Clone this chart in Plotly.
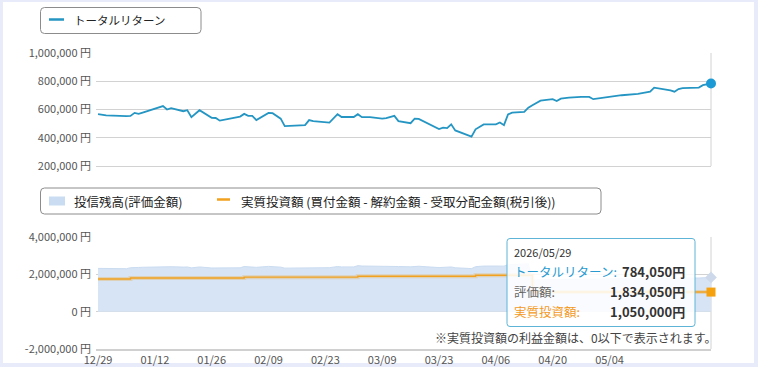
import plotly.graph_objects as go

W, H = 758, 367

# ---------------- data ----------------
dates = ['2025-12-29', '2025-12-31', '2026-01-05', '2026-01-06', '2026-01-07', '2026-01-08', '2026-01-09',
         '2026-01-14', '2026-01-15', '2026-01-16', '2026-01-19', '2026-01-20', '2026-01-21', '2026-01-23',
         '2026-01-26', '2026-01-27', '2026-01-28', '2026-01-30', '2026-02-02', '2026-02-03', '2026-02-04',
         '2026-02-05', '2026-02-06', '2026-02-09', '2026-02-10', '2026-02-12', '2026-02-13', '2026-02-18',
         '2026-02-19', '2026-02-20', '2026-02-24', '2026-02-26', '2026-02-27', '2026-03-02', '2026-03-03',
         '2026-03-04', '2026-03-06', '2026-03-09', '2026-03-10', '2026-03-12', '2026-03-13', '2026-03-16',
         '2026-03-17', '2026-03-18', '2026-03-23', '2026-03-24', '2026-03-25', '2026-03-26', '2026-03-27',
         '2026-03-31', '2026-04-01', '2026-04-03', '2026-04-06', '2026-04-07', '2026-04-08', '2026-04-09',
         '2026-04-10', '2026-04-13', '2026-04-14', '2026-04-15', '2026-04-16', '2026-04-17', '2026-04-20',
         '2026-04-21', '2026-04-22', '2026-04-24', '2026-04-27', '2026-04-29', '2026-04-30', '2026-05-04',
         '2026-05-07', '2026-05-11', '2026-05-13', '2026-05-14', '2026-05-15', '2026-05-18', '2026-05-19',
         '2026-05-20', '2026-05-21', '2026-05-22', '2026-05-26', '2026-05-27', '2026-05-29']

total_return = [567000, 558000, 553000, 555000, 576000, 569000, 578000,
                624000, 600000, 609000, 588000, 595000, 546000, 595000,
                541000, 540000, 521000, 533000, 550000, 569000, 555000,
                555000, 525000, 576000, 574000, 535000, 482000, 489000,
                525000, 517000, 507000, 567000, 547000, 547000, 567000,
                546000, 546000, 535000, 539000, 555000, 518000, 503000,
                535000, 533000, 461000, 472000, 468000, 495000, 452000,
                408000, 460000, 494000, 495000, 508000, 489000, 565000,
                578000, 583000, 613000, 630000, 649000, 663000, 673000,
                660000, 677000, 684000, 689000, 689000, 673000, 689000,
                701000, 710000, 724000, 726000, 755000, 743000, 736000,
                726000, 745000, 752000, 755000, 772000, 784050]

valuation = [2317000, 2308000, 2303000, 2355000, 2376000, 2369000, 2378000,
             2424000, 2400000, 2409000, 2388000, 2395000, 2346000, 2395000,
             2341000, 2340000, 2321000, 2333000, 2350000, 2419000, 2405000,
             2405000, 2375000, 2426000, 2424000, 2385000, 2332000, 2339000,
             2375000, 2367000, 2357000, 2417000, 2397000, 2397000, 2467000,
             2446000, 2446000, 2435000, 2439000, 2455000, 2418000, 2403000,
             2435000, 2433000, 2361000, 2372000, 2368000, 2395000, 2352000,
             2308000, 2410000, 2444000, 2445000, 2458000, 2439000, 2515000,
             2528000, 2533000, 2563000, 1680000, 1699000, 1713000, 1723000,
             1710000, 1727000, 1734000, 1739000, 1739000, 1723000, 1739000,
             1751000, 1760000, 1774000, 1776000, 1805000, 1793000, 1786000,
             1776000, 1795000, 1802000, 1805000, 1822000, 1834050]

invest_dates = ['2025-12-29', '2026-01-06', '2026-02-03', '2026-03-03', '2026-04-01', '2026-04-15', '2026-05-29']
invest_values = [1750000, 1800000, 1850000, 1900000, 1950000, 1050000, 1050000]

x_tickvals = ['2025-12-29', '2026-01-12', '2026-01-26', '2026-02-09', '2026-02-23',
              '2026-03-09', '2026-03-23', '2026-04-06', '2026-04-20', '2026-05-04']
x_ticktext = ['12/29', '01/12', '01/26', '02/09', '02/23', '03/09', '03/23', '04/06', '04/20', '05/04']
y1_ticks = [200000, 400000, 600000, 800000, 1000000]
y2_ticks = [-2000000, 0, 2000000, 4000000]

tip_date = '2026/05/29'
tip_labels = ['トータルリターン:', '評価額:', '実質投資額:']
tip_values = ['784,050円', '1,834,050円', '1,050,000円']

legend1 = 'トータルリターン'
legend2a = '投信残高(評価金額)'
legend2b = '実質投資額 (買付金額 - 解約金額 - 受取分配金額(税引後))'
note = '※実質投資額の利益金額は、0以下で表示されます。'

# ---------------- helpers ----------------
FONT = 'Noto Sans CJK JP, Noto Sans, sans-serif'
TEAL = '#2596c3'
ORANGE = '#f2a11f'


def px(x):
    return x / W


def py(y):
    return 1 - y / H


def rrect(x0, y0, x1, y1, r):
    rx, ry = r / W, r / H
    X0, X1, Y0, Y1 = px(x0), px(x1), py(y0), py(y1)
    return (f'M {X0 + rx} {Y0} L {X1 - rx} {Y0} Q {X1} {Y0} {X1} {Y0 - ry} '
            f'L {X1} {Y1 + ry} Q {X1} {Y1} {X1 - rx} {Y1} '
            f'L {X0 + rx} {Y1} Q {X0} {Y1} {X0} {Y1 + ry} '
            f'L {X0} {Y0 - ry} Q {X0} {Y0} {X0 + rx} {Y0} Z')


fmt = lambda v: f'{v:,} 円'

fig = go.Figure()

# top chart
fig.add_trace(go.Scatter(x=dates, y=total_return, mode='lines', line=dict(color=TEAL, width=1.8),
                         xaxis='x', yaxis='y'))
fig.add_trace(go.Scatter(x=[dates[-1]], y=[total_return[-1]], mode='markers',
                         marker=dict(color='#1c9ad5', size=10), xaxis='x', yaxis='y', cliponaxis=False))

# bottom chart
fig.add_trace(go.Scatter(x=dates, y=valuation, mode='lines', fill='tozeroy', fillcolor='#d6e4f5',
                         line=dict(color='#cbdcf1', width=1), xaxis='x2', yaxis='y2'))
fig.add_trace(go.Scatter(x=invest_dates, y=invest_values, mode='lines',
                         line=dict(color='rgba(242,161,31,0.28)', width=4, shape='hv'),
                         xaxis='x2', yaxis='y2'))
fig.add_trace(go.Scatter(x=invest_dates, y=invest_values, mode='lines',
                         line=dict(color=ORANGE, width=1.4, shape='hv'), xaxis='x2', yaxis='y2'))
fig.add_trace(go.Scatter(x=[dates[-1]], y=[valuation[-1]], mode='markers',
                         marker=dict(color='#cdd9ea', size=9, symbol='diamond'),
                         xaxis='x2', yaxis='y2', cliponaxis=False))
fig.add_trace(go.Scatter(x=[invest_dates[-1]], y=[invest_values[-1]], mode='markers',
                         marker=dict(color='#f5a10e', size=9, symbol='square'),
                         xaxis='x2', yaxis='y2', cliponaxis=False))

L, R = 96, 711
xrange = ['2025-12-28 12:00', '2026-05-29']
tickfont = dict(family=FONT, size=11, color='#555555')

shapes = [
    # page panel
    dict(type='rect', xref='paper', yref='paper', x0=px(3), x1=px(754), y0=py(363), y1=py(2),
         fillcolor='white', line=dict(width=0), layer='below'),
    # right borders
    dict(type='line', xref='paper', yref='paper', x0=px(R), x1=px(R), y0=py(53), y1=py(166),
         line=dict(color='#d2d2d2', width=1), layer='below'),
    dict(type='line', xref='paper', yref='paper', x0=px(R), x1=px(R), y0=py(237), y1=py(349),
         line=dict(color='#d2d2d2', width=1), layer='below'),
    # legend boxes
    dict(type='path', xref='paper', yref='paper', path=rrect(40.5, 7.5, 201, 33.5, 4),
         line=dict(color='#8c8c8c', width=1), fillcolor='white'),
    dict(type='line', xref='paper', yref='paper', x0=px(49), x1=px(64), y0=py(19.5), y1=py(19.5),
         line=dict(color=TEAL, width=2.5)),
    dict(type='path', xref='paper', yref='paper', path=rrect(40.5, 188, 601, 214, 4),
         line=dict(color='#8c8c8c', width=1), fillcolor='white'),
    dict(type='rect', xref='paper', yref='paper', x0=px(49), x1=px(65), y0=py(205.5), y1=py(196.5),
         fillcolor='#c9dcf2', line=dict(width=0)),
    dict(type='line', xref='paper', yref='paper', x0=px(217), x1=px(230), y0=py(199.5), y1=py(199.5),
         line=dict(color=ORANGE, width=2.5)),
    # tooltip
    dict(type='path', xref='paper', yref='paper', path=rrect(507, 238.5, 695, 326.5, 3),
         line=dict(color='#5db4d6', width=1), fillcolor='rgba(255,255,255,0.86)', layer='above'),
]

annotations = [
    dict(text=legend1, x=px(72), y=py(20), xanchor='left', yanchor='middle',
         font=dict(family=FONT, size=11.5, color='#222222')),
    dict(text=legend2a, x=px(72), y=py(201), xanchor='left', yanchor='middle',
         font=dict(family=FONT, size=12.5, color='#222222')),
    dict(text=legend2b, x=px(239), y=py(201), xanchor='left', yanchor='middle',
         font=dict(family=FONT, size=12.5, color='#222222')),
    dict(text=tip_date, x=px(512), y=py(252), xanchor='left', yanchor='middle',
         font=dict(family=FONT, size=11, color='#333333')),
    dict(text=note, x=px(433), y=py(337), xanchor='left', yanchor='middle',
         font=dict(family=FONT, size=12, color='#444444')),
]
tip_colors = ['#2a9bd0', '#666666', '#f39a1e']
for i, (lab, val, col) in enumerate(zip(tip_labels, tip_values, tip_colors)):
    yy = 271 + 20 * i
    annotations.append(dict(text=lab, x=px(512), y=py(yy), xanchor='left', yanchor='middle',
                            font=dict(family=FONT, size=12.5, color=col)))
    annotations.append(dict(text=f'<b>{val}</b>', x=px(687), y=py(yy), xanchor='right', yanchor='middle',
                            font=dict(family=FONT, size=13, color='#333333')))
for a in annotations:
    a.update(xref='paper', yref='paper', showarrow=False)

fig.update_layout(
    width=W, height=H, margin=dict(l=0, r=0, t=0, b=0),
    paper_bgcolor='#e8ebf9', plot_bgcolor='rgba(0,0,0,0)',
    showlegend=False, hovermode=False,
    xaxis=dict(domain=[px(L), px(R)], anchor='y', range=xrange, type='date',
               showticklabels=False, showgrid=False, zeroline=False,
               showline=True, linecolor='#d2d2d2', linewidth=1, automargin=False),
    yaxis=dict(domain=[py(166), py(53)], anchor='x', range=[200000, 1000000],
               tickvals=y1_ticks, ticktext=[fmt(v) for v in y1_ticks], tickfont=tickfont,
               gridcolor='#d2d2d2', gridwidth=1, zeroline=False, showline=False,
               ticks='', ticklabelstandoff=4, automargin=False),
    xaxis2=dict(domain=[px(L), px(R)], anchor='y2', range=xrange, type='date',
                tickvals=x_tickvals, ticktext=x_ticktext, tickfont=tickfont,
                showgrid=False, zeroline=False, showline=True, linecolor='#d0d0d0', linewidth=2,
                ticks='', automargin=False),
    yaxis2=dict(domain=[py(349), py(237)], anchor='x2', range=[-2000000, 4000000],
                tickvals=y2_ticks, ticktext=[fmt(v) for v in y2_ticks], tickfont=tickfont,
                gridcolor='#d2d2d2', gridwidth=1, zeroline=False, showline=False,
                ticks='', ticklabelstandoff=4, automargin=False),
    shapes=shapes, annotations=annotations,
)

fig.write_html('out.html')
